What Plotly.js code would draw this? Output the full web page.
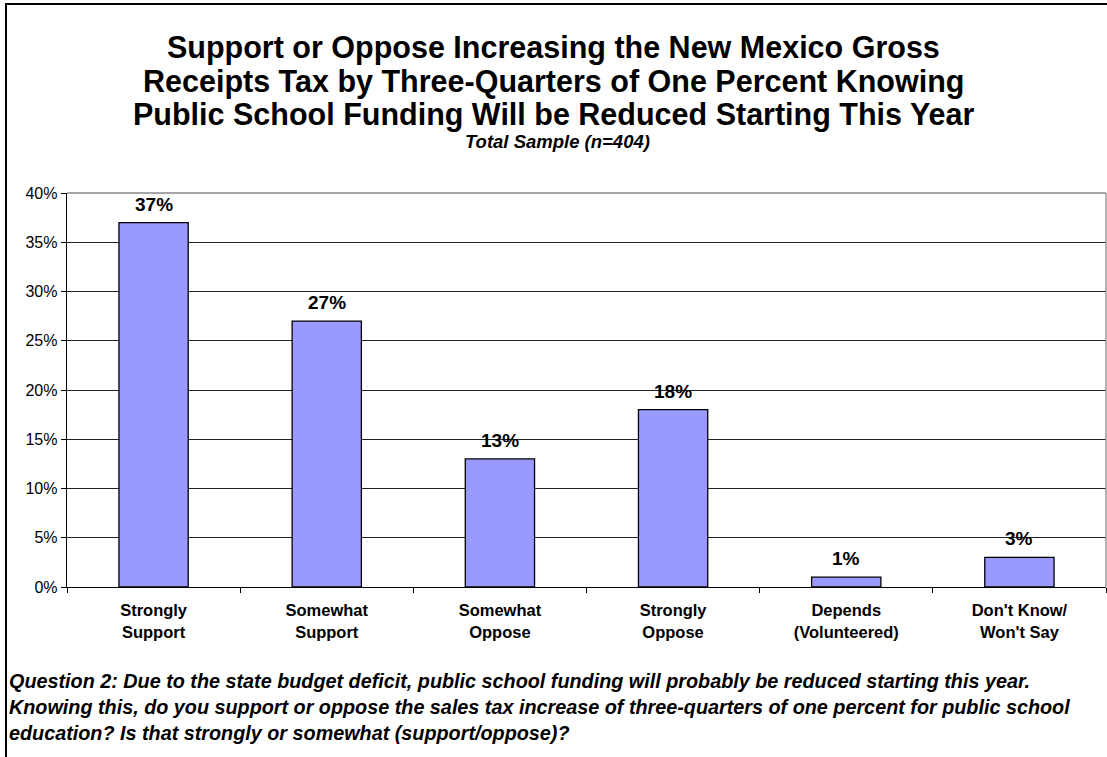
<!DOCTYPE html>
<html>
<head>
<meta charset="utf-8">
<script src="https://cdn.plot.ly/plotly-3.0.1.min.js"></script>
<style>
html, body { margin: 0; padding: 0; background: #fff; }
#chart { width: 1107px; height: 757px; }
</style>
</head>
<body>
<div id="chart"></div>
<script>
const categories = ["Strongly<br>Support", "Somewhat<br>Support", "Somewhat<br>Oppose", "Strongly<br>Oppose", "Depends<br>(Volunteered)", "Don't Know/<br>Won't Say"];
const values = [37, 27, 13, 18, 1, 3];
const titleLines = [
  "Support or Oppose Increasing the New Mexico Gross",
  "Receipts Tax by Three-Quarters of One Percent Knowing",
  "Public School Funding Will be Reduced Starting This Year"
];
const subtitle = "Total Sample (n=404)";
const footerLines = [
  "Question 2: Due to the state budget deficit, public school funding will probably be reduced starting this year.",
  "Knowing this, do you support or oppose the sales tax increase of three-quarters of one percent for public school",
  "education? Is that strongly or somewhat (support/oppose)?"
];
const yTicks = [0, 5, 10, 15, 20, 25, 30, 35, 40];

const FONT = "Liberation Sans, Arial, sans-serif";
const W = 1107, H = 757;
const mL = 67, mR = 1, mT = 193, mB = 170;
const pw = W - mL - mR, ph = H - mT - mB;
const px = x => (x - mL) / pw;
const py = y => (H - mB - y) / ph;

const trace = {
  type: "bar",
  x: categories,
  y: values,
  width: 0.4,
  marker: { color: "#9999FF", line: { color: "#000", width: 1.3 } },
  hoverinfo: "skip"
};

const annotations = [];
values.forEach((v, i) => {
  annotations.push({
    text: "<b>" + v + "%</b>", xref: "x", yref: "y",
    x: categories[i], y: v, xanchor: "center", yanchor: "bottom", yshift: 6,
    showarrow: false, font: { family: FONT, size: 19, color: "#000" }
  });
});
const titleY = [47, 81, 115];
titleLines.forEach((t, i) => {
  annotations.push({
    text: "<b>" + t + "</b>", xref: "paper", yref: "paper",
    x: px(553.5), y: py(titleY[i]), xanchor: "center", yanchor: "middle",
    showarrow: false, font: { family: FONT, size: 30.5, color: "#000" }
  });
});
annotations.push({
  text: "<b><i>" + subtitle + "</i></b>", xref: "paper", yref: "paper",
  x: px(557), y: py(142), xanchor: "center", yanchor: "middle",
  showarrow: false, font: { family: FONT, size: 18.5, color: "#000" }
});
const footY = [681, 707, 733];
footerLines.forEach((t, i) => {
  annotations.push({
    text: "<b><i>" + t + "</i></b>", xref: "paper", yref: "paper",
    x: px(7), y: py(footY[i]), xanchor: "left", yanchor: "middle",
    showarrow: false, font: { family: FONT, size: 19.8, color: "#000" }
  });
});

const shapes = [
  { type: "line", xref: "paper", yref: "paper", x0: px(6), x1: px(6), y0: py(3), y1: py(760), line: { color: "#000", width: 2 } },
  { type: "line", xref: "paper", yref: "paper", x0: px(5), x1: px(1110), y0: py(4), y1: py(4), line: { color: "#000", width: 2 } },
  { type: "line", xref: "paper", yref: "paper", x0: 0, x1: 1, y0: 1, y1: 1, line: { color: "#888", width: 1.3 } },
  { type: "line", xref: "paper", yref: "paper", x0: 1, x1: 1, y0: 0, y1: 1, line: { color: "#888", width: 1.3 } }
];

const layout = {
  width: W, height: H,
  margin: { l: mL, r: mR, t: mT, b: mB, pad: 0 },
  paper_bgcolor: "#fff", plot_bgcolor: "#fff",
  showlegend: false,
  font: { family: FONT, color: "#000" },
  xaxis: {
    type: "category",
    showline: true, linecolor: "#000", linewidth: 1.3,
    ticks: "outside", tickson: "boundaries", ticklen: 5, tickcolor: "#000",
    ticklabelstandoff: 8,
    tickfont: { family: FONT, size: 16.5, color: "#000", weight: "bold" },
    showgrid: false, fixedrange: true
  },
  yaxis: {
    range: [0, 40], tickvals: yTicks, ticktext: yTicks.map(v => v + "%"),
    showline: true, linecolor: "#000", linewidth: 1.3,
    ticks: "outside", ticklen: 5, tickcolor: "#000",
    tickfont: { family: FONT, size: 16, color: "#000" },
    showgrid: true, gridcolor: "#222", gridwidth: 1,
    zeroline: false, fixedrange: true
  },
  annotations: annotations,
  shapes: shapes
};

Plotly.newPlot("chart", [trace], layout, { displayModeBar: false, staticPlot: true });
</script>
</body>
</html>
